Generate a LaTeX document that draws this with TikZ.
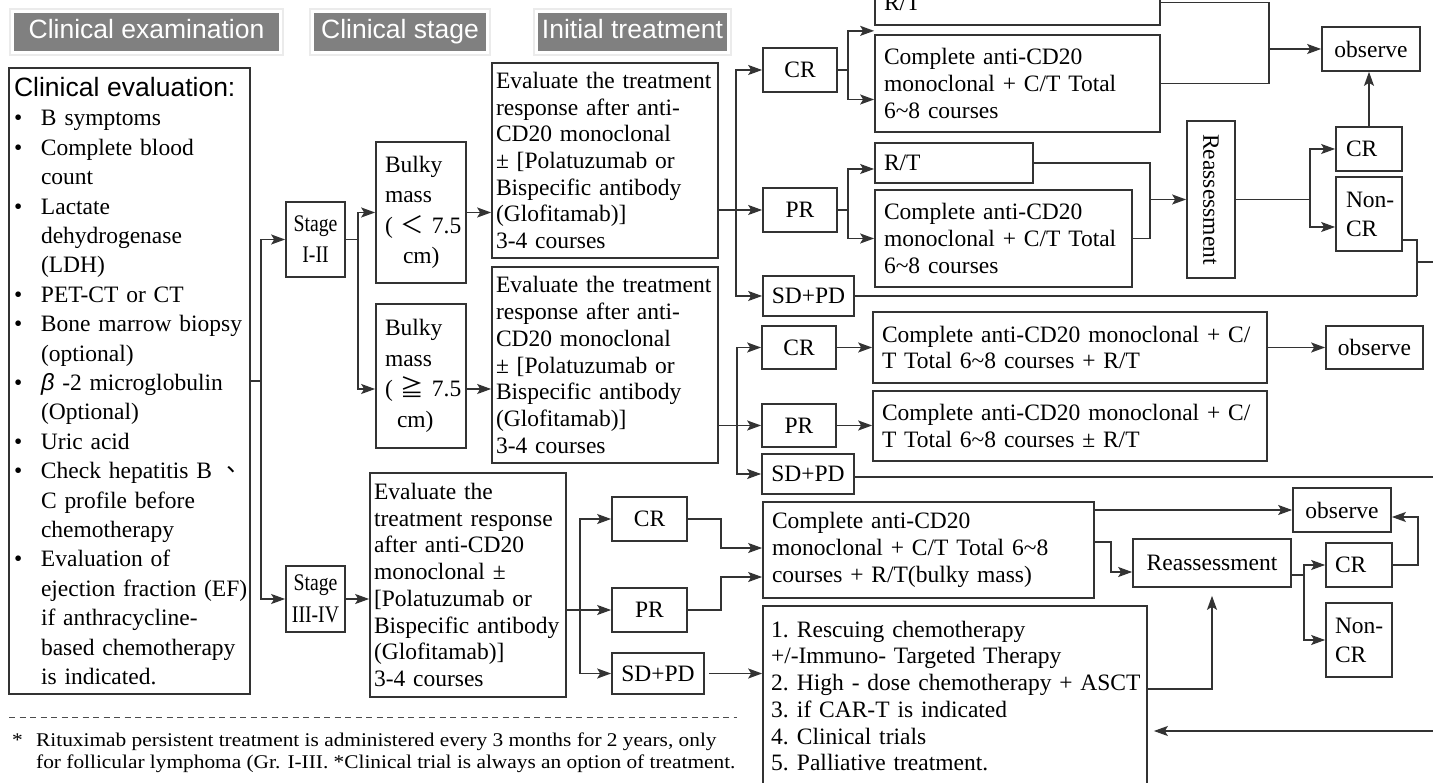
\documentclass[tikz,border=0pt]{standalone}
\usepackage{fontspec}
\usepackage{graphicx}
\setmainfont{Liberation Serif}
\newfontfamily\arialfont{Liberation Sans}
\newfontfamily\cjkfont{Noto Sans CJK TC}
\newfontfamily\stagefont[FakeStretch=0.83]{Liberation Serif}
\newfontfamily\notefont[FakeStretch=1.1]{Liberation Serif}
\usetikzlibrary{calc, arrows.meta}

% bullet line and its continuation
\newcommand{\blt}[1]{\mbox{\makebox[27pt][l]{\textbullet}#1}}
\newcommand{\bcn}[1]{\mbox{\hspace*{27pt}#1}}

\begin{document}
\begin{tikzpicture}[x=1pt, y=-1pt,
    bx/.style={draw=black!80, line width=1.7pt, inner ysep=0pt, font=\fontsize{23.5}{26.7}\selectfont},
    lbox/.style={bx, align=left},
    cbox/.style={bx, align=center, inner xsep=2pt},
    hdr/.style={fill=black!50, draw=white, line width=3pt, text=white, inner sep=0pt,
        text height=19pt, text depth=5pt, font=\arialfont\fontsize{26.5}{30}\selectfont,
        preaction={draw=black!8, line width=6.5pt}},
    ln/.style={line width=1.5pt, draw=black!80},
    arr/.style={ln, -{Stealth[length=14pt, width=10pt, inset=3pt]}}]

    \useasboundingbox (0,0) rectangle (1433,783);
    \clip (0,0) rectangle (1433,783);

    % 1. Column headers
    \node[hdr, minimum width=268pt, minimum height=41pt] (h1) at (146.5,32) {Clinical examination};
    \node[hdr, minimum width=175pt, minimum height=41pt] (h2) at (400,32) {Clinical stage};
    \node[hdr, minimum width=192pt, minimum height=41pt] (h3) at (632.5,32) {Initial treatment};

    % 2. Clinical evaluation
    \node[lbox, inner xsep=5pt, text width=231pt, minimum height=626pt,
        font=\fontsize{23.5}{29.4}\selectfont] (clin) at (129.5,381) {%
        {\arialfont\fontsize{26.5}{29.4}\selectfont Clinical evaluation:}\\
        \blt{B symptoms}\\
        \blt{Complete blood}\\
        \bcn{count}\\
        \blt{Lactate}\\
        \bcn{dehydrogenase}\\
        \bcn{(LDH)}\\
        \blt{PET-CT or CT}\\
        \blt{Bone marrow biopsy}\\
        \bcn{(optional)}\\
        \blt{{\arialfont\itshape β} -2 microglobulin}\\
        \bcn{(Optional)}\\
        \blt{Uric acid}\\
        \blt{Check hepatitis B {\cjkfont 、}}\\
        \bcn{C profile before}\\
        \bcn{chemotherapy}\\
        \blt{Evaluation of}\\
        \bcn{ejection fraction (EF)}\\
        \bcn{if anthracycline-}\\
        \bcn{based chemotherapy}\\
        \bcn{is indicated.}};

    % 3. Stages and bulky mass
    \node[cbox, minimum width=59pt, minimum height=75pt, font=\stagefont\fontsize{23.8}{31}\selectfont] (st12) at (315.5,239.5) {Stage\\I-II};
    \node[cbox, minimum width=59pt, minimum height=66pt, font=\stagefont\fontsize{23.8}{32}\selectfont] (st34) at (315.5,599) {Stage\\III-IV};
    \node[lbox, inner xsep=9pt, text width=72pt, minimum height=141pt, font=\fontsize{23.5}{30.5}\selectfont] (bulk1) at (421,212.5)
        {Bulky\\mass\\\mbox{(~{\cjkfont ＜}~7.5}\\\hspace*{18pt}cm)};
    \node[lbox, inner xsep=9pt, text width=72pt, minimum height=144pt, font=\fontsize{23.5}{30.5}\selectfont] (bulk2) at (421,376)
        {Bulky\\mass\\\mbox{(~{\cjkfont ≧}~7.5}\\\hspace*{12pt}cm)};

    % 4. Initial treatment
    \node[lbox, inner xsep=4pt, text width=218pt, minimum height=195pt] (eval1) at (605,160.5)
        {\mbox{Evaluate the treatment}\\\mbox{response after anti-}\\CD20 monoclonal\\± {[}Polatuzumab or\\Bispecific antibody\\(Glofitamab)]\\3-4 courses};
    \node[lbox, inner xsep=4pt, text width=218pt, minimum height=196pt] (eval2) at (605,365)
        {\mbox{Evaluate the treatment}\\\mbox{response after anti-}\\CD20 monoclonal\\± {[}Polatuzumab or\\Bispecific antibody\\(Glofitamab)]\\3-4 courses};
    \node[lbox, inner xsep=4pt, text width=188pt, minimum height=224pt] (eval3) at (468,585)
        {Evaluate the\\\mbox{treatment response}\\\mbox{after anti-CD20}\\monoclonal ±\\{[}Polatuzumab or\\\mbox{Bispecific antibody}\\(Glofitamab)]\\3-4 courses};

    % 5. Responses
    \node[cbox, minimum width=74pt, minimum height=44pt] (cr1) at (800,70) {CR};
    \node[cbox, minimum width=74pt, minimum height=44pt] (pr1) at (800,210) {PR};
    \node[cbox, minimum width=91pt, minimum height=40pt] (sd1) at (808.5,296) {SD+PD};
    \node[cbox, minimum width=74pt, minimum height=43pt] (cr2) at (799,347.5) {CR};
    \node[cbox, minimum width=74pt, minimum height=43pt] (pr2) at (799,425.5) {PR};
    \node[cbox, minimum width=92pt, minimum height=40pt] (sd2) at (808,474) {SD+PD};
    \node[cbox, minimum width=75pt, minimum height=44pt] (cr3) at (649.5,519) {CR};
    \node[cbox, minimum width=75pt, minimum height=44pt] (pr3) at (649.5,610) {PR};
    \node[cbox, minimum width=92pt, minimum height=41pt] (sd3) at (658,673.5) {SD+PD};

    % 6. Further treatment, stage I-II
    \node[lbox, inner xsep=9pt, text width=267pt, minimum height=45pt] (rt1) at (1017.5,2.5) {R/T};
    \node[lbox, inner xsep=9pt, text width=267pt, minimum height=97pt] (ct1) at (1017.5,83.5)
        {Complete anti-CD20\\monoclonal + C/T Total\\6\textasciitilde 8 courses};
    \node[lbox, inner xsep=9pt, text width=140pt, minimum height=40pt] (rt2) at (954,163) {R/T};
    \node[lbox, inner xsep=9pt, text width=239pt, minimum height=97pt] (ct2) at (1003.5,238.5)
        {Complete anti-CD20\\monoclonal + C/T Total\\6\textasciitilde 8 courses};
    \node[cbox, minimum width=48pt, minimum height=157pt] (re1) at (1211,199.5) {\rotatebox{-90}{Reassessment}};
    \node[lbox, inner xsep=10pt, text width=46pt, minimum height=44pt] (cr4) at (1369,149) {CR};
    \node[lbox, inner xsep=10pt, text width=46pt, minimum height=74pt, font=\fontsize{23.5}{29}\selectfont] (nc1) at (1369,214) {\mbox{Non-}\\CR};
    \node[cbox, minimum width=98pt, minimum height=44pt] (ob1) at (1371,49) {observe};

    \node[lbox, inner xsep=9pt, text width=376pt, minimum height=71pt] (cm1) at (1070,347.5)
        {\mbox{Complete anti-CD20 monoclonal + C/}\\T Total 6\textasciitilde 8 courses + R/T};
    \node[lbox, inner xsep=9pt, text width=376pt, minimum height=70pt] (cm2) at (1070,426)
        {\mbox{Complete anti-CD20 monoclonal + C/}\\T Total 6\textasciitilde 8 courses ± R/T};
    \node[cbox, minimum width=97pt, minimum height=43pt] (ob2) at (1374.5,347.5) {observe};

    % 7. Further treatment, stage III-IV
    \node[lbox, inner xsep=9pt, text width=313pt, minimum height=96pt] (cm3) at (928.5,550)
        {Complete anti-CD20\\\mbox{monoclonal + C/T Total 6\textasciitilde 8}\\\mbox{courses + R/T(bulky mass)}};
    \node[lbox, inner xsep=8pt, text width=368pt, minimum height=180pt] (rs) at (955,696)
        {\makebox[26pt][l]{1.}Rescuing chemotherapy\\\mbox{+/-Immuno- Targeted Therapy}\\\mbox{\makebox[26pt][l]{2.}High - dose chemotherapy + ASCT}\\\makebox[26pt][l]{3.}if CAR-T is indicated\\\makebox[26pt][l]{4.}Clinical trials\\\makebox[26pt][l]{5.}Palliative treatment.};
    \node[cbox, minimum width=158pt, minimum height=48pt] (re2) at (1212,563) {Reassessment};
    \node[cbox, minimum width=98pt, minimum height=44pt] (ob3) at (1342,510) {observe};
    \node[lbox, inner xsep=9pt, text width=48pt, minimum height=44pt] (cr5) at (1359,565) {CR};
    \node[lbox, inner xsep=9pt, text width=48pt, minimum height=74pt, font=\fontsize{23.5}{29}\selectfont] (nc2) at (1359,640) {\mbox{Non-}\\CR};

    % 8. Footnote
    \coordinate (d1) at (9,717);
    \coordinate (d2) at (737,717);
    \draw[black!70, line width=0.9pt, dash pattern=on 6pt off 4.5pt] (d1) -- (d2);
    \node[anchor=west, inner sep=0pt, align=left, font=\notefont\fontsize{19.4}{22.5}\selectfont] (fn) at (12,753)
        {\makebox[24pt][l]{*}Rituximab persistent treatment is administered every 3 months for 2 years, only\\
        \hspace*{24pt}for follicular lymphoma (Gr. I-III. *Clinical trial is always an option of treatment.};

    % 9. Connectors, left part
    \draw[arr] (clin.east) -- ++(10,0) |- (st12.west);
    \draw[arr] (clin.east) -- ++(10,0) |- (st34.west);
    \draw[arr] (st12.east) -- ++(12,0) |- (bulk1.west);
    \draw[arr] (st12.east) -- ++(12,0) |- ([yshift=-13pt]bulk2.west);
    \draw[arr] (bulk1.east) -- (bulk1.east -| eval1.west);
    \draw[arr] ([yshift=-13pt]bulk2.east) -- ([yshift=-13pt]bulk2.east -| eval2.west);
    \draw[arr] (st34.east) -- (st34.east -| eval3.west);

    % 10. Splits to CR / PR / SD+PD
    \coordinate (s1) at ($(eval1.east |- pr1)+(17,0)$);
    \draw[arr] (eval1.east |- pr1) -- (pr1.west);
    \draw[arr] (s1) |- (cr1.west);
    \draw[arr] (s1) |- (sd1.west);
    \coordinate (s2) at ($(eval2.east |- pr2)+(18,0)$);
    \draw[arr] (eval2.east |- pr2) -- (pr2.west);
    \draw[arr] (s2) |- (cr2.west);
    \draw[arr] (s2) |- (sd2.west);
    \coordinate (s3) at ($(eval3.east |- pr3)+(13,0)$);
    \draw[arr] (eval3.east |- pr3) -- (pr3.west);
    \draw[arr] (s3) |- (cr3.west);
    \draw[arr] (s3) |- (sd3.west);

    % 11. Stage I-II, after CR / PR
    \draw[arr] (cr1.east) -- ++(10,0) |- ([yshift=-5pt]rt1.south west);
    \draw[arr] (cr1.east) -- ++(10,0) |- ([yshift=-16pt]ct1.west);
    \draw[arr] (pr1.east) -- ++(10,0) |- ([yshift=-6pt]rt2.west);
    \draw[arr] (pr1.east) -- ++(10,0) |- (ct2.west);
    \coordinate (m1) at ($(rt1.east)+(108,0)$);
    \draw[ln] (rt1.east) -- (m1) |- (ct1.east);
    \draw[arr] (m1 |- ob1) -- (ob1.west);
    \coordinate (m2) at ($(rt2.east)+(116,0)$);
    \draw[ln] (rt2.east) -- (m2) |- (ct2.east);
    \draw[arr] (m2 |- re1) -- (re1.west);
    \coordinate (m3) at ($(re1.east)+(74,0)$);
    \draw[ln] (re1.east) -- (m3);
    \draw[arr] (m3) |- (cr4.west);
    \draw[arr] (m3) |- ([yshift=-13pt]nc1.west);
    \draw[arr] (cr4.north) -- (cr4.north |- ob1.south);

    % 12. Lines running off to the right
    \coordinate (x1) at (1417,0);
    \coordinate (e1) at (1440,262);
    \coordinate (e2) at (1440,0);
    \coordinate (e3) at (1440,731);
    \draw[ln] ([yshift=-26pt]nc1.east) -| (sd1.east -| x1);
    \draw[ln] (sd1.east) -- (sd1.east -| x1);
    \draw[ln] (x1 |- e1) -- (e1);
    \draw[ln] ([yshift=-3pt]sd2.east) -- ([yshift=-3pt]sd2.east -| e2);

    % 13. Middle rows
    \draw[arr] (cr2.east) -- (cr2.east -| cm1.west);
    \draw[arr] (pr2.east) -- (pr2.east -| cm2.west);
    \draw[arr] (cm1.east) -- (ob2.west);

    % 14. Stage III-IV, after CR / PR / SD+PD
    \coordinate (k1) at (0,689);
    \draw[arr] (cr3.east) -- ++(33,0) |- ([yshift=2pt]cm3.west);
    \draw[arr] (pr3.east) -- ++(33,0) |- ([yshift=-27pt]cm3.west);
    \draw[arr] ([xshift=4pt]sd3.east) -- (sd3.east -| rs.west);
    \draw[arr] (cm3.east |- ob3) -- (ob3.west);
    \draw[arr] ([yshift=8pt]cm3.east) -- ++(16,0) |- ([yshift=-9pt]re2.west);
    \draw[arr] (rs.east |- k1) -| ([yshift=-8pt]re2.south);
    \draw[ln] ([yshift=-12pt]re2.east) -- ++(12,0) coordinate (m5);
    \draw[arr] (m5) |- (cr5.west);
    \draw[arr] (m5) |- (nc2.west);
    \draw[arr] (cr5.east) -- ++(25,0) |- ([yshift=-7pt]ob3.east);
    \draw[arr] (e3) -- ([xshift=6pt]rs.east |- e3);
\end{tikzpicture}
\end{document}
